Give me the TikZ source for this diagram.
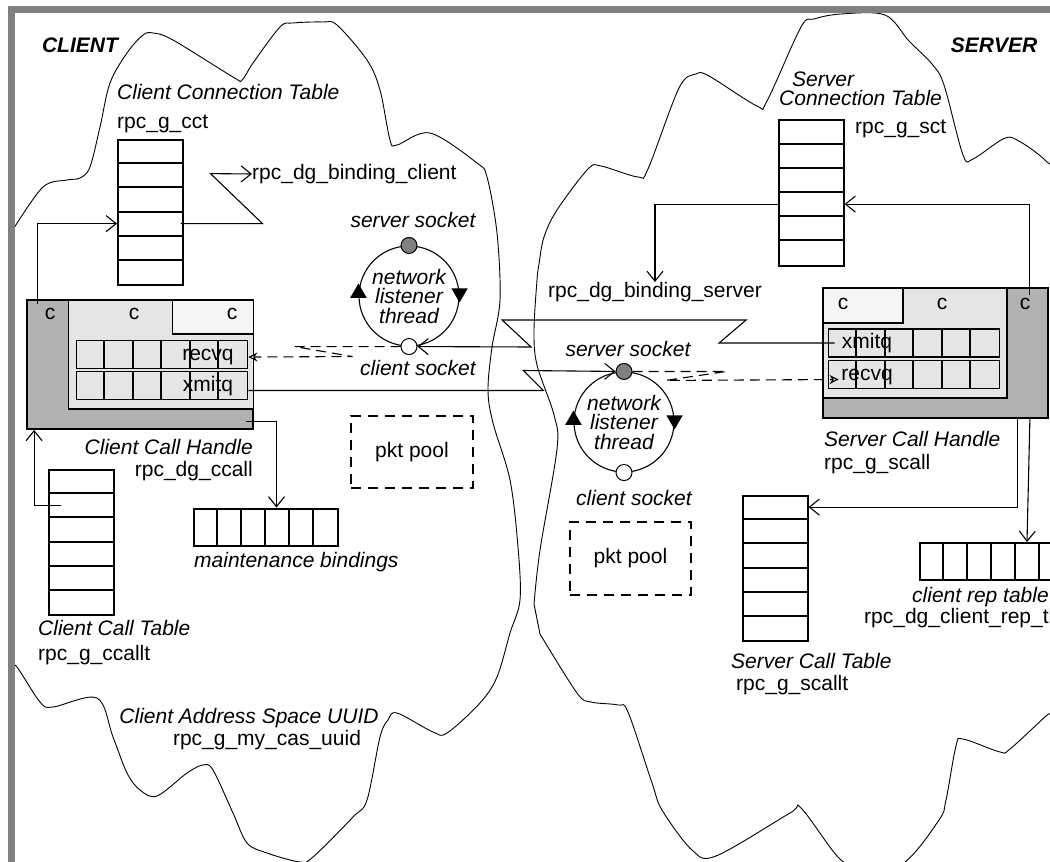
\documentclass[tikz,border=0pt]{standalone}
\usepackage{fontspec}
\setmainfont{Liberation Sans}
\usetikzlibrary{shapes.geometric,arrows.meta,positioning}
\newcommand\figfont{\fontsize{21pt}{19.5pt}\selectfont}
\tikzset
{
    vtable/.style   = {rectangle, draw=black, line width=2pt, inner sep=0pt, minimum width=65pt, minimum height=145.2pt},
    htable/.style   = {rectangle, draw=black, line width=2pt, inner sep=0pt, minimum width=144pt, minimum height=37pt},
    queue/.style    = {rectangle, draw=black, fill=black!10, line width=1.8pt, inner sep=0pt, minimum width=171pt, minimum height=28pt},
    divider/.style  = {line width=2pt},
    qdivider/.style = {line width=1.8pt},
    handle/.style   = {rectangle, draw=black, line width=1.8pt, fill=black!30, inner sep=0pt},
    slot/.style     = {rectangle, draw=black, line width=1.4pt, fill=#1, inner sep=0pt},
    listener/.style = {circle, draw=black, line width=1.1pt, minimum size=100pt, inner sep=0pt, align=center, font=\figfont\itshape},
    socket/.style   = {circle, draw=black, line width=1pt, fill=#1, minimum size=16pt, inner sep=0pt},
    spin/.style     = {regular polygon, regular polygon sides=3, fill=black, inner sep=0pt, minimum size=19pt},
    pool/.style     = {rectangle, draw=black, line width=1.2pt, dash pattern=on 10pt off 7pt, font=\figfont},
    txt/.style      = {inner sep=0pt, text height=15pt, text depth=4.5pt, font=\figfont},
    itxt/.style     = {txt, font=\figfont\itshape},
    arrow/.style    = {line width=1.1pt, -{Straight Barb[length=10pt,width=16pt]}},
    dgram/.style    = {line width=1.1pt, dash pattern=on 10pt off 6pt, -{Stealth[open, fill=white, length=9pt, width=9pt]}},
    addrspace/.style= {line width=0.9pt}
}

\begin{document}
\begin{tikzpicture}[x=1pt, y=-1pt]

   \newcommand\ROWH{24.2pt}
   \newcommand\CELLW{24pt}
   \newcommand\QCELLW{28.5pt}

   \fill[white, use as bounding box] (0,0) rectangle (1050,862);
   \clip (0,0) rectangle (1050,862);

   % address spaces
   \draw[addrspace] plot[smooth, tension=0.55] coordinates {
      (14,228) (43,187) (67,180) (80,178) (90,167) (100,127) (110,83) (127,53) (143,35) (153,33) (173,40)
      (233,77) (242,80) (253,63) (280,27) (293,23) (323,22) (337,25) (367,60) (380,90) (390,140) (397,145)
      (430,133) (477,163) (487,177) (497,233) (500,300) (492,347) (488,390) (493,423) (510,480) (518,547)
      (520,600) (510,633) (497,677) (480,703) (447,733) (433,732) (397,713) (388,720) (380,737) (367,800)
      (353,817) (313,857) (300,862) (267,853) (247,843) (233,813) (213,770) (203,765) (187,773) (157,796)
      (140,790) (127,773) (113,737) (97,698) (53,707) (40,702) (17,667) (12,667)} -- cycle;
   \draw[addrspace] plot[smooth, tension=0.55] coordinates {
      (534,604) (540,550) (557,449) (554,415) (537,365) (534,331) (537,280) (539,264) (544,237) (557,210)
      (588,169) (601,166) (638,177) (648,169) (679,88) (696,74) (709,76) (757,106) (767,101) (801,27)
      (814,19) (841,14) (885,15) (909,41) (932,64) (944,85) (963,155) (973,159) (1003,139) (1017,140)
      (1047,162) (1075,200) (1090,450) (1075,690) (1047,715) (1010,749) (1000,752) (963,739) (956,746)
      (946,800) (939,820) (902,864) (858,866) (838,857) (801,808) (790,813) (716,856) (692,850) (662,810)
      (652,783) (628,712) (618,705) (591,702) (577,693) (540,634)} -- cycle;

   % frame
   \fill[black!50] (8,6) rectangle (1050,13);
   \fill[black!50] (8,6) rectangle (15,862);

   \node (client) [txt, font=\figfont\bfseries\itshape] at (80,47)  {CLIENT};
   \node (server) [txt, font=\figfont\bfseries\itshape] at (994,47) {SERVER};

   % client side
   \node (cct)      [vtable]              at (150.5,212.5) {};
   \node (cct-n)    [itxt, anchor=west]   at (117,94)      {Client Connection Table};
   \node (cct-v)    [txt, anchor=west]    at (117,123)     {rpc\_g\_cct};
   \node (bc)       [txt, anchor=west]    at (252,174)     {rpc\_dg\_binding\_client};

   \node (cch)      [handle, minimum width=226pt, minimum height=129pt]                   at (140,364.5)     {};
   \node (cch-in)   [slot=black!10, minimum width=185pt, minimum height=109pt, anchor=north east] at (cch.north east) {};
   \node (cch-w)    [slot=black!4, minimum width=81pt, minimum height=34pt, anchor=north east]    at (cch.north east) {};
   \node (crq)      [queue]               at (162,354.5)   {};
   \node (cxq)      [queue]               at (162,385.5)   {};

   \node (ccallt)   [vtable]              at (81,542.5)    {};
   \node (ccallt-n) [itxt, anchor=west]   at (38,630)      {Client Call Table};
   \node (ccallt-v) [txt, anchor=west]    at (38,655)      {rpc\_g\_ccallt};

   \node (mbind)    [htable]              at (265.5,527)   {};
   \node (mbind-n)  [itxt, anchor=west]   at (194,562)     {maintenance bindings};

   \node (cpool)    [pool, minimum width=122pt, minimum height=72pt] at (412,452) {pkt pool};

   \node (clis)     [listener]            at (409,296)     {network\\listener\\thread};
   \node (clis-ss)  [socket=black!50]     at (clis.north)  {};
   \node (clis-cs)  [socket=white]        at (clis.south)  {};
   \node (clis-l)   [spin]                at ([yshift=3pt]clis.west) {};
   \node (clis-r)   [spin, shape border rotate=180] at ([yshift=3pt]clis.east) {};
   \node (clis-sl)  [itxt, above=5pt of clis-ss, xshift=4pt] {server socket};
   \node (clis-cl)  [itxt, below=5pt of clis-cs, xshift=9pt] {client socket};

   \node (cas-n)    [itxt]                at (249,718)     {Client Address Space UUID};
   \node (cas-v)    [txt]                 at (267,740)     {rpc\_g\_my\_cas\_uuid};

   % server side
   \node (sct)      [vtable]              at (811,193)     {};
   \node (sct-n1)   [itxt, anchor=west]   at (792,81)      {Server};
   \node (sct-n2)   [itxt, anchor=west]   at (779,100)     {Connection Table};
   \node (sct-v)    [txt, anchor=west]    at (855,128)     {rpc\_g\_sct};
   \node (bs)       [txt]                 at (655,292)     {rpc\_dg\_binding\_server};

   \node (sch)      [handle, minimum width=225pt, minimum height=130pt]                   at (935.5,353)     {};
   \node (sch-in)   [slot=black!10, minimum width=184pt, minimum height=110pt, anchor=north west] at (sch.north west) {};
   \node (sch-w)    [slot=black!4, minimum width=80pt, minimum height=35pt, anchor=north west]    at (sch.north west) {};
   \node (sxq)      [queue]               at (914,343)     {};
   \node (srq)      [queue]               at (914,374.5)   {};

   \node (scallt)   [vtable]              at (775,568.6)   {};
   \node (scallt-n) [itxt, anchor=west]   at (731,663)     {Server Call Table};
   \node (scallt-v) [txt, anchor=west]    at (736,685)     {rpc\_g\_scallt};

   \node (crep)     [htable]              at (992,561.5)   {};
   \node (crep-n)   [itxt, anchor=west]   at (912,597)     {client rep table};
   \node (crep-v)   [txt, anchor=west]    at (864,618)     {rpc\_dg\_client\_rep\_tbl};

   \node (spool)    [pool, minimum width=121pt, minimum height=73pt] at (630.5,558.5) {pkt pool};

   \node (slis)     [listener]            at (624,422)     {network\\listener\\thread};
   \node (slis-ss)  [socket=black!50]     at (slis.north)  {};
   \node (slis-cs)  [socket=white]        at (slis.south)  {};
   \node (slis-l)   [spin]                at ([yshift=2pt]slis.west) {};
   \node (slis-r)   [spin, shape border rotate=180] at ([yshift=2pt]slis.east) {};
   \node (slis-sl)  [itxt, above=2pt of slis-ss, xshift=4pt]  {server socket};
   \node (slis-cl)  [itxt, below=9pt of slis-cs, xshift=10pt] {client socket};

   % rows and cells
   \foreach \t in {cct, ccallt, sct, scallt}
      \foreach \k in {1,...,5}
         \draw[divider] ([yshift=-\k*\ROWH]\t.north west) -- ([yshift=-\k*\ROWH]\t.north east);
   \foreach \t in {mbind, crep}
      \foreach \k in {1,...,5}
         \draw[divider] ([xshift=\k*\CELLW]\t.north west) -- ([xshift=\k*\CELLW]\t.south west);
   \foreach \t in {crq, cxq, sxq, srq}
      \foreach \k in {1,...,5}
         \draw[qdivider] ([xshift=\k*\QCELLW]\t.north west) -- ([xshift=\k*\QCELLW]\t.south west);

   \node (crq-t)    [txt]                 at (208,355)     {recvq};
   \node (cxq-t)    [txt]                 at (208,386)     {xmitq};
   \node (cch-c1)   [txt]                 at (50,314)      {c};
   \node (cch-c2)   [txt]                 at (134,314)     {c};
   \node (cch-c3)   [txt]                 at (232,314)     {c};
   \node (cch-n)    [itxt, anchor=east]   at (253,449)     {Client Call Handle};
   \node (cch-v)    [txt, anchor=east]    at (253,471)     {rpc\_dg\_ccall};

   \node (sxq-t)    [txt]                 at (867,343)     {xmitq};
   \node (srq-t)    [txt]                 at (867,375)     {recvq};
   \node (sch-c1)   [txt]                 at (843,304)     {c};
   \node (sch-c2)   [txt]                 at (942,304)     {c};
   \node (sch-c3)   [txt]                 at (1025,304)    {c};
   \node (sch-n)    [itxt, anchor=west]   at (824,441)     {Server Call Handle};
   \node (sch-v)    [txt, anchor=west]    at (824,464)     {rpc\_g\_scall};

   % pointers inside each address space
   \draw[arrow] ([xshift=11pt,yshift=-5pt]cch.north west) |- ([yshift=-3.5*\ROWH]cct.north west);
   \draw[arrow] ([xshift=30pt,yshift=-3.5*\ROWH]cct.north) -- ++(82,0) -- ++(-52,-50) -- (bc.west);
   \draw[arrow] ([xshift=-8pt,yshift=8pt]cch.south east) -| ([xshift=3.5*\CELLW]mbind.north west);
   \draw[arrow] ([xshift=-20pt,yshift=-1.5*\ROWH]ccallt.north) -| ([xshift=8pt]cch.south west);
   \draw[arrow] ([xshift=-19pt,yshift=-8pt]sch.north east) |- ([yshift=-3.5*\ROWH]sct.north east);
   \draw[arrow] ([yshift=-3.5*\ROWH]sct.north west) -| (bs.north);
   \draw[arrow] ([xshift=-31pt]sch.south east) |- ([yshift=-0.5*\ROWH]scallt.north east);
   \draw[arrow] ([xshift=-19pt]sch.south east) -- ([xshift=4.5*\CELLW]crep.north west);

   % packets over the network
   \draw[arrow] ([yshift=-5pt]cxq.east) -- ++(295,0) -- ++(-20,-20) -- (slis-ss.west);
   \draw[arrow] ([xshift=7pt]sxq.west) -- ++(-115.5,0) -- ++(27,-23) -- ++(-244,0) -- ++(29,27) -- (clis-cs.east);
   \draw[dgram] (clis-cs.west) -- ++(-106,0) -- ++(58,10) -- ([yshift=-2.5pt]crq.east);
   \draw[dgram] (slis-ss.east) -- ++(94,0) -- ++(-61,9) -- ([xshift=11pt,yshift=-5pt]srq.west);

\end{tikzpicture}
\end{document}
